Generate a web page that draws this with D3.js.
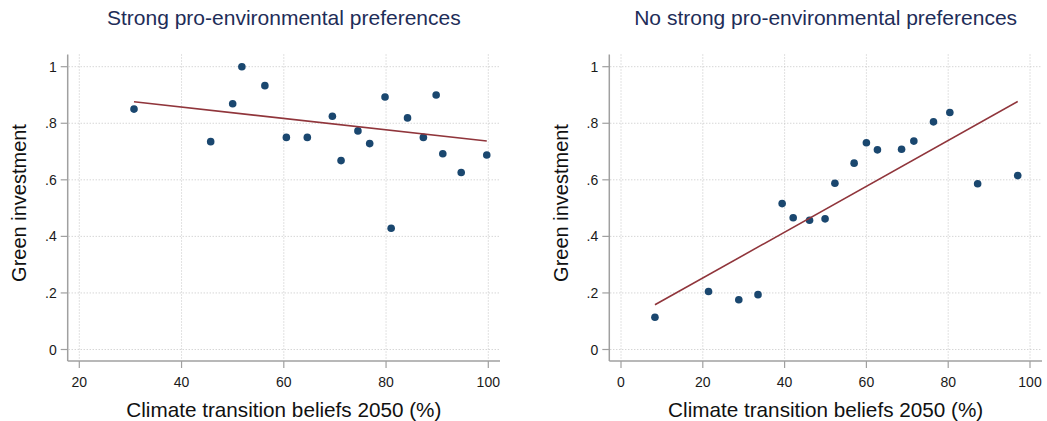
<!DOCTYPE html>
<html>
<head>
<meta charset="utf-8">
<script src="https://cdn.jsdelivr.net/npm/d3@7/dist/d3.min.js"></script>
<style>
  body { margin: 0; background: #fff; }
  text { font-family: "Liberation Sans", Arial, sans-serif; }
</style>
</head>
<body>
<script>
let width = 1047;
let height = 421;

// data
let strongX = [30.7, 45.7, 50.0, 51.8, 56.3, 60.5, 64.6, 69.5, 71.2, 74.5, 76.8, 79.8, 81.0, 84.2, 87.3, 89.8, 91.1, 94.7, 99.7];
let strongY = [0.850, 0.735, 0.869, 1.000, 0.933, 0.750, 0.750, 0.825, 0.668, 0.773, 0.728, 0.893, 0.429, 0.819, 0.750, 0.900, 0.692, 0.626, 0.688];
let strongFitX = [30.7, 99.7];
let strongFitY = [0.876, 0.737];

let weakX = [8.3, 21.4, 28.8, 33.5, 39.4, 42.1, 46.1, 49.9, 52.3, 57.0, 60.0, 62.7, 68.6, 71.6, 76.4, 80.4, 87.2, 97.0];
let weakY = [0.114, 0.205, 0.176, 0.194, 0.516, 0.466, 0.457, 0.462, 0.588, 0.659, 0.731, 0.706, 0.708, 0.737, 0.805, 0.838, 0.586, 0.615];
let weakFitX = [8.3, 97.0];
let weakFitY = [0.158, 0.877];

let yTicks = [0, 0.2, 0.4, 0.6, 0.8, 1];
let yTickLabels = ["0", ".2", ".4", ".6", ".8", "1"];
let strongXTicks = [20, 40, 60, 80, 100];
let weakXTicks = [0, 20, 40, 60, 80, 100];

let titleColor = "#1e2d58";
let pointColor = "#1a476f";
let fitColor = "#90353b";
let axisColor = "#a0a0a0";
let gridColor = "#c4c4c4";

let svg = d3.select("body").append("svg")
            .attr("width", width)
            .attr("height", height);

function drawPanel(cfg) {
  let g = svg.append("g");
  let x = d3.scaleLinear().domain(cfg.xDomain).range(cfg.xRange);
  let y = d3.scaleLinear().domain([0, 1]).range([349.5, 66.7]);

  let axisLeft = cfg.axisLeft;
  let axisRight = cfg.axisRight;
  let axisBottom = 361;
  let top = 54.5;

  // grid
  g.selectAll(".hgrid").data(yTicks).enter().append("line")
   .attr("x1", axisLeft + 1).attr("x2", axisRight)
   .attr("y1", d => y(d)).attr("y2", d => y(d))
   .attr("stroke", gridColor).attr("stroke-width", 1)
   .attr("stroke-dasharray", "1,2");
  g.selectAll(".vgrid").data(cfg.xTicks).enter().append("line")
   .attr("x1", d => x(d)).attr("x2", d => x(d))
   .attr("y1", top).attr("y2", axisBottom - 1)
   .attr("stroke", gridColor).attr("stroke-width", 1)
   .attr("stroke-dasharray", "1,2");

  // axes
  g.append("line").attr("x1", axisLeft).attr("x2", axisLeft)
   .attr("y1", top).attr("y2", axisBottom)
   .attr("stroke", axisColor).attr("stroke-width", 1.5);
  g.append("line").attr("x1", axisLeft).attr("x2", axisRight)
   .attr("y1", axisBottom).attr("y2", axisBottom)
   .attr("stroke", axisColor).attr("stroke-width", 1.5);

  g.selectAll(".ytick").data(yTicks).enter().append("line")
   .attr("x1", axisLeft - 7).attr("x2", axisLeft)
   .attr("y1", d => y(d)).attr("y2", d => y(d))
   .attr("stroke", axisColor).attr("stroke-width", 1.2);
  g.selectAll(".ylab").data(yTicks).enter().append("text")
   .attr("x", axisLeft - 11).attr("y", d => y(d) + 5)
   .attr("text-anchor", "end").attr("font-size", 14).attr("fill", "#1a1a1a")
   .text((d, i) => yTickLabels[i]);

  g.selectAll(".xtick").data(cfg.xTicks).enter().append("line")
   .attr("x1", d => x(d)).attr("x2", d => x(d))
   .attr("y1", axisBottom).attr("y2", axisBottom + 7)
   .attr("stroke", axisColor).attr("stroke-width", 1.2);
  g.selectAll(".xlab").data(cfg.xTicks).enter().append("text")
   .attr("x", d => x(d)).attr("y", 387)
   .attr("text-anchor", "middle").attr("font-size", 14).attr("fill", "#1a1a1a")
   .text(d => d);

  // titles
  let mid = (axisLeft + axisRight) / 2;
  g.append("text").attr("x", mid).attr("y", 25)
   .attr("text-anchor", "middle").attr("font-size", 21).attr("fill", titleColor)
   .text(cfg.title);
  g.append("text").attr("x", mid).attr("y", 417)
   .attr("text-anchor", "middle").attr("font-size", 20.7).attr("fill", "#111")
   .text("Climate transition beliefs 2050 (%)");
  g.append("text")
   .attr("transform", "translate(" + (axisLeft - 41.5) + ",203) rotate(-90)")
   .attr("text-anchor", "middle").attr("font-size", 20).attr("fill", "#111")
   .text("Green investment");

  // points
  g.selectAll(".pt").data(cfg.xs).enter().append("circle")
   .attr("cx", d => x(d)).attr("cy", (d, i) => y(cfg.ys[i]))
   .attr("r", 3.8).attr("fill", pointColor);

  // fitted line
  let line = d3.line().x(d => x(d[0])).y(d => y(d[1]));
  g.append("path")
   .datum(cfg.fitX.map((d, i) => [d, cfg.fitY[i]]))
   .attr("d", line)
   .attr("fill", "none").attr("stroke", fitColor).attr("stroke-width", 1.6);
}

drawPanel({
  title: "Strong pro-environmental preferences",
  xDomain: [20, 100], xRange: [79.3, 488.3],
  axisLeft: 67.7, axisRight: 500,
  xTicks: strongXTicks,
  xs: strongX, ys: strongY, fitX: strongFitX, fitY: strongFitY
});

drawPanel({
  title: "No strong pro-environmental preferences",
  xDomain: [0, 100], xRange: [621, 1030],
  axisLeft: 609.3, axisRight: 1042,
  xTicks: weakXTicks,
  xs: weakX, ys: weakY, fitX: weakFitX, fitY: weakFitY
});
</script>
</body>
</html>
